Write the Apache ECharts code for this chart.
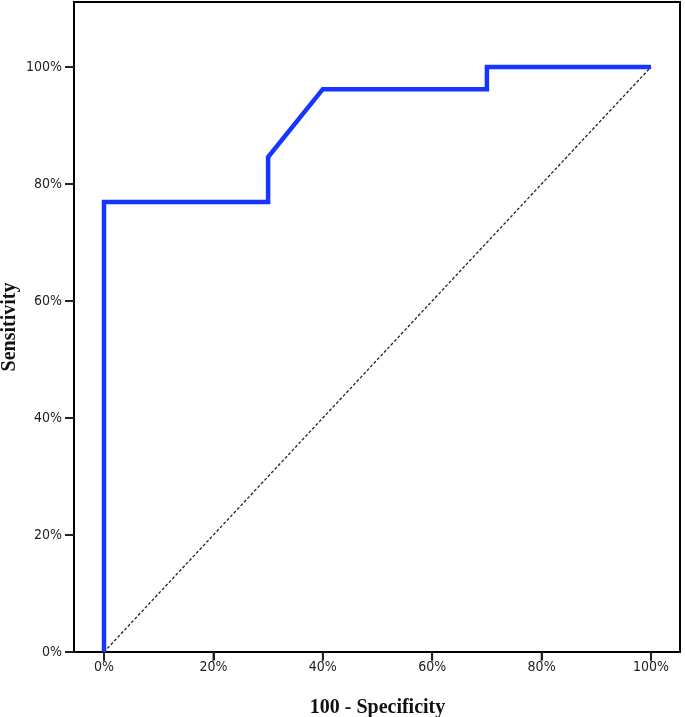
<!DOCTYPE html>
<html>
<head>
<meta charset="utf-8">
<script src="https://cdn.jsdelivr.net/npm/echarts@6/dist/echarts.min.js"></script>
<style>html,body{margin:0;padding:0;background:#fff}#c{width:685px;height:717px}</style>
</head>
<body>
<div id="c"></div>
<script>
const rocX = [0, 0, 30, 30, 40, 70, 70, 100];
const rocY = [0, 76.9, 76.9, 84.6, 96.2, 96.2, 100, 100];
const refX = [0, 100];
const refY = [0, 100];
const tickValues = [0, 20, 40, 60, 80, 100];
const xTitle = '100 - Specificity';
const yTitle = 'Sensitivity';

const chart = echarts.init(document.getElementById('c'));
const labelFont = { fontFamily: 'DejaVu Sans Condensed', fontSize: 14, color: '#222' };
const titleFont = { fontFamily: 'Liberation Serif', fontWeight: 'bold', fontSize: 20, color: '#111' };
chart.setOption({
  animation: false,
  grid: [
    { left: 74, right: 5, top: 2, bottom: 65, show: true, borderColor: '#000', borderWidth: 2, outerBoundsMode: 'none', containLabel: false },
    { left: 104, right: 34, top: 2, bottom: 65, outerBoundsMode: 'none', containLabel: false }
  ],
  xAxis: [
    { gridIndex: 0, type: 'value', min: 0, max: 100, show: false },
    {
      gridIndex: 1, type: 'value', min: 0, max: 100, interval: 20, position: 'bottom',
      name: xTitle, nameLocation: 'middle', nameGap: 46, nameMoveOverlap: false, nameTextStyle: titleFont,
      axisLine: { show: true, onZero: false, lineStyle: { color: '#000', width: 2 } },
      splitLine: { show: false },
      axisTick: { show: true, inside: false, length: 8, customValues: tickValues, lineStyle: { color: '#222', width: 2 } },
      axisLabel: Object.assign({ customValues: tickValues, formatter: v => v + '%', margin: 8 }, labelFont)
    }
  ],
  yAxis: [
    {
      gridIndex: 0, type: 'value', min: 0, max: 111.1,
      name: yTitle, nameLocation: 'middle', nameGap: 54, nameMoveOverlap: false, nameRotate: 90, nameTextStyle: titleFont,
      axisLine: { show: false, onZero: false },
      splitLine: { show: false },
      axisTick: { show: true, length: 9, customValues: tickValues, lineStyle: { color: '#222', width: 2 } },
      axisLabel: Object.assign({ customValues: tickValues, formatter: v => v + '%', margin: 12 }, labelFont)
    },
    { gridIndex: 1, type: 'value', min: 0, max: 111.1, show: false }
  ],
  series: [
    {
      type: 'line', xAxisIndex: 1, yAxisIndex: 1, data: refX.map((x, i) => [x, refY[i]]), symbol: 'none',
      lineStyle: { color: '#222', width: 1.3, type: [3, 2] }, z: 1
    },
    {
      type: 'line', xAxisIndex: 1, yAxisIndex: 1, data: rocX.map((x, i) => [x, rocY[i]]), symbol: 'none',
      lineStyle: { color: '#1536ff', width: 4.5, join: 'miter' }, z: 2
    },
    {
      type: 'scatter', xAxisIndex: 1, yAxisIndex: 1, silent: true, clip: false,
      data: tickValues.map(v => [v, 0]),
      symbol: 'rect', symbolSize: [2, 9], symbolOffset: [0, 5],
      itemStyle: { color: '#222' }, z: 0
    }
  ]
});
</script>
</body>
</html>
